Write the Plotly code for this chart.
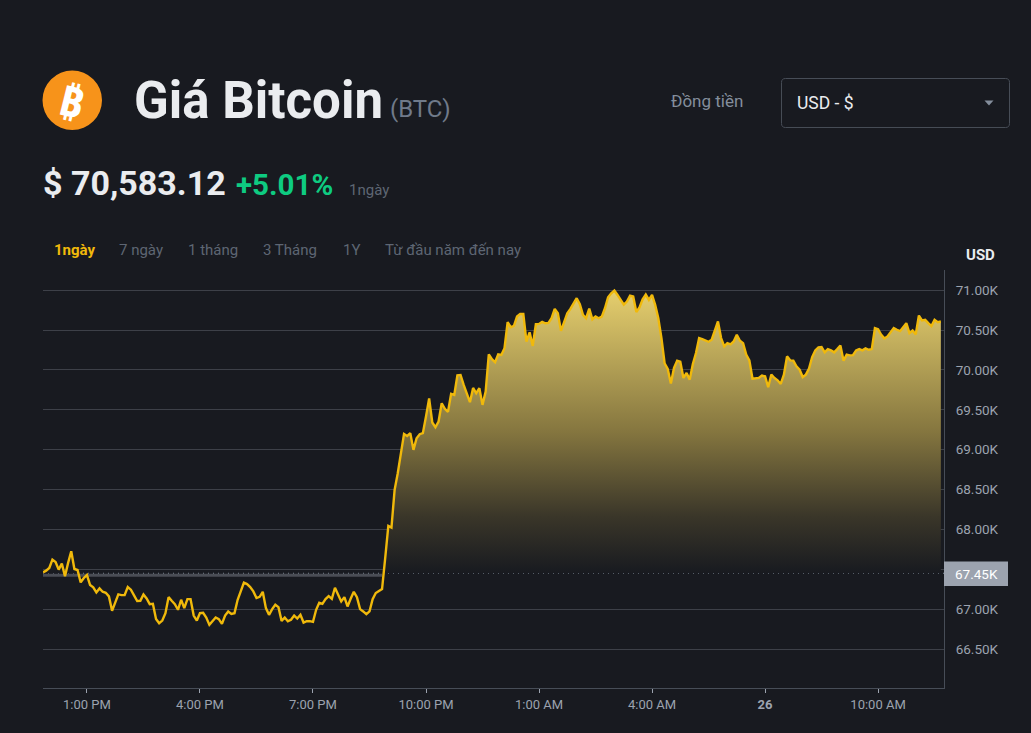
import pandas as pd
import plotly.graph_objs as go

# BTC/USD, one point every 5 minutes
prices = [
    67462, 67483, 67517, 67622, 67592, 67496, 67571, 67412, 67580, 67727,
    67504, 67491, 67336, 67391, 67428, 67302, 67273, 67210, 67260, 67218,
    67206, 67160, 66979, 67076, 67185, 67176, 67176, 67277, 67244, 67172,
    67101, 67105, 67185, 67134, 67063, 67067, 66878, 66824, 66857, 66950,
    67151, 67105, 67063, 66992, 67118, 67013, 67126, 67126, 66920, 66857,
    66950, 66954, 66895, 66803, 66849, 66895, 66874, 66815, 66920, 66971,
    66941, 66950, 67118, 67223, 67332, 67315, 67277, 67223, 67139, 67155,
    67218, 67013, 66929, 67000, 67055, 67025, 66853, 66895, 66849, 66866,
    66920, 66882, 66929, 66832, 66849, 66849, 66840, 66992, 67080, 67067,
    67126, 67164, 67130, 67269, 67193, 67097, 67151, 67034, 67130, 67218,
    67151, 67000, 66971, 66937, 66971, 67126, 67202, 67227, 67252, 67640,
    68045, 68024, 68496, 68705, 68935, 69198, 69173, 69207, 68998, 69144,
    69194, 69207, 69416, 69642, 69341, 69282, 69353, 69583, 69512, 69474,
    69700, 69687, 69934, 69938, 69813, 69708, 69596, 69775, 69708, 69771,
    69562, 69729, 70197, 70135, 70097, 70197, 70189, 70273, 70599, 70536,
    70553, 70670, 70703, 70703, 70356, 70473, 70302, 70574, 70578, 70603,
    70586, 70590, 70649, 70766, 70712, 70490, 70607, 70712, 70766, 70829,
    70900, 70824, 70691, 70649, 70770, 70636, 70670, 70649, 70670, 70774,
    70912, 70962, 70996, 70941, 70879, 70820, 70858, 70933, 70921, 70728,
    70783, 70887, 70946, 70879, 70941, 70816, 70649, 70398, 70085, 70012,
    69829, 70025, 70117, 70104, 69900, 69962, 69879, 70075, 70212, 70400,
    70387, 70371, 70354, 70379, 70483, 70608, 70400, 70296, 70337, 70321,
    70358, 70442, 70367, 70337, 70192, 70121, 69892, 69896, 69900, 69929,
    69921, 69783, 69942, 69900, 69871, 69825, 69942, 70171, 70121, 70117,
    70046, 70004, 69912, 69942, 70017, 70162, 70246, 70283, 70287, 70221,
    70262, 70246, 70221, 70262, 70308, 70117, 70192, 70183, 70187, 70246,
    70262, 70246, 70271, 70254, 70262, 70525, 70512, 70442, 70396, 70421,
    70475, 70525, 70504, 70487, 70537, 70587, 70462, 70496, 70446, 70683,
    70621, 70629, 70587, 70550, 70629, 70600, 70608,
]
base_price = 67450

y_ticks = [66500, 67000, 67500, 68000, 68500, 69000, 69500, 70000, 70500, 71000]
y_labels = ['66.50K', '67.00K', '', '68.00K', '68.50K', '69.00K', '69.50K', '70.00K', '70.50K', '71.00K']

x_ticks = ['2024-03-25 13:00', '2024-03-25 16:00', '2024-03-25 19:00', '2024-03-25 22:00',
           '2024-03-26 01:00', '2024-03-26 04:00', '2024-03-26 07:00', '2024-03-26 10:00']
x_labels = ['1:00 PM', '4:00 PM', '7:00 PM', '10:00 PM', '1:00 AM', '4:00 AM', '<b>26</b>', '10:00 AM']

tabs = ['1ngày', '7 ngày', '1 tháng', '3 Tháng', '1Y', 'Từ đầu năm đến nay']
tab_pos = [54, 119, 188, 263, 343, 385]

times = pd.date_range('2024-03-25 11:50', periods=len(prices), freq='5min')
above_base = [max(p, base_price) for p in prices]

BG = '#181a20'
FONT = 'Roboto'

# plot area in page pixels
L, R, T, B = 43, 944, 270, 688


def px(x):
    return (x - L) / (R - L)


def py(y):
    return (B - y) / (B - T)


fig = go.Figure()

fig.add_trace(go.Scatter(x=times, y=[base_price] * len(prices), mode='lines',
                         line=dict(width=0), hoverinfo='skip', showlegend=False))
fig.add_trace(go.Scatter(x=times, y=above_base, mode='lines', line=dict(width=0),
                         fill='tonexty',
                         fillgradient=dict(type='vertical', start=71000, stop=base_price,
                                           colorscale=[[0, '#e6cf6e'], [0.5, '#85763f'],
                                                       [0.8, '#3a3629'], [1, BG]]),
                         hoverinfo='skip', showlegend=False))
fig.add_trace(go.Scatter(x=times, y=prices, mode='lines',
                         line=dict(color='#f0b90b', width=2.4),
                         name='BTC', showlegend=False))


def text(x, y, s, size, color, bold=False, anchor='left'):
    fig.add_annotation(xref='paper', yref='paper', x=px(x), y=py(y), text='<b>%s</b>' % s if bold else s,
                       showarrow=False, xanchor=anchor, yanchor='middle', xshift=0,
                       font=dict(family=FONT, size=size, color=color), borderpad=0, borderwidth=0)


def path(points, close=True):
    # points in page pixels -> svg path in paper coordinates
    cmds = []
    for cmd, *xy in points:
        coords = [('%.5f' % px(xy[i]), '%.5f' % py(xy[i + 1])) for i in range(0, len(xy), 2)]
        cmds.append(cmd + ' ' + ' '.join(a + ',' + b for a, b in coords))
    return ' '.join(cmds) + (' Z' if close else '')


# header
fig.add_shape(type='circle', xref='paper', yref='paper', x0=px(42.5), x1=px(102), y0=py(130), y1=py(70.5),
              fillcolor='#f7931a', line=dict(width=0))
fig.add_annotation(xref='paper', yref='paper', x=px(72), y=py(100), text='<b>₿</b>', showarrow=False,
                   textangle=14, xanchor='center', yanchor='middle',
                   font=dict(family='Noto Sans, DejaVu Sans', size=42, color='white'))
text(134, 100, 'Giá Bitcoin', 51, '#eaecef', bold=True)
text(390, 109, '(BTC)', 24, '#707a8a')
text(43, 183, '$ 70,583.12', 34, '#eaecef', bold=True)
text(236, 185, '+5.01%', 29.5, '#0ecb81', bold=True)
text(349, 190, '1ngày', 15, '#5e6673')

text(671, 101, 'Đồng tiền', 17, '#848e9c')
x0, x1, y0, y1, r = 781.5, 1009.5, 78.5, 127.5, 4
fig.add_shape(type='path', xref='paper', yref='paper',
              path=path([('M', x0 + r, y0), ('L', x1 - r, y0), ('Q', x1, y0, x1, y0 + r),
                         ('L', x1, y1 - r), ('Q', x1, y1, x1 - r, y1), ('L', x0 + r, y1),
                         ('Q', x0, y1, x0, y1 - r), ('L', x0, y0 + r), ('Q', x0, y0, x0 + r, y0)]),
              fillcolor=BG, line=dict(color='#474d57', width=1))
text(797, 103, 'USD - $', 17.5, '#eaecef')
fig.add_shape(type='path', xref='paper', yref='paper',
              path=path([('M', 984.5, 100.5), ('L', 993.5, 100.5), ('L', 989, 105.5)]),
              fillcolor='#848e9c', line=dict(width=0))

# range tabs
for i, tab in enumerate(tabs):
    text(tab_pos[i], 250, tab, 15, '#f0b90b' if i == 0 else '#5e6673', bold=i == 0)

text(980, 255, 'USD', 15, '#eaecef', bold=True, anchor='center')

# baseline: dotted line and price tag
fig.add_shape(type='line', xref='paper', yref='y', x0=0, x1=1, y0=base_price, y1=base_price,
              line=dict(color='#848e9c', width=1, dash='1px,4px'), layer='below')
fig.add_shape(type='line', xref='x', yref='y', x0=times[0], x1=times[108], y0=67425, y1=67425,
              line=dict(color='#4a4d55', width=3), layer='below')
fig.add_shape(type='rect', xref='paper', yref='paper', x0=px(944), x1=px(1008), y0=py(586), y1=py(561.5),
              fillcolor='#9ca3af', line=dict(width=0))
text(955, 574, '67.45K', 13.5, '#ffffff')

fig.update_layout(
    width=1031, height=733,
    margin=dict(l=L, r=1031 - R, t=T, b=733 - B, pad=0),
    paper_bgcolor=BG, plot_bgcolor=BG,
    font=dict(family=FONT, color='#9ca3af', size=13),
    hovermode=False,
)
fig.update_xaxes(range=['2024-03-25 11:50', '2024-03-26 11:45'], tickvals=x_ticks, ticktext=x_labels,
                 showgrid=False, zeroline=False, showline=True, linecolor='#474d57', linewidth=1,
                 ticks='outside', ticklen=4, tickcolor='#9ca3af', tickwidth=1,
                 tickfont=dict(family=FONT, size=13, color='#9ca3af'))
fig.update_yaxes(range=[66011, 71254], side='right', tickvals=y_ticks, ticktext=y_labels,
                 showgrid=True, gridcolor='#3d4048', gridwidth=1, zeroline=False,
                 showline=True, linecolor='#474d57', linewidth=1, ticks='',
                 ticklabelstandoff=8,
                 tickfont=dict(family=FONT, size=13.5, color='#9ca3af'))

fig.write_html("out.html", config=dict(displayModeBar=False),
               post_script="document.body.style.margin='0';document.body.style.background='#181a20';")
